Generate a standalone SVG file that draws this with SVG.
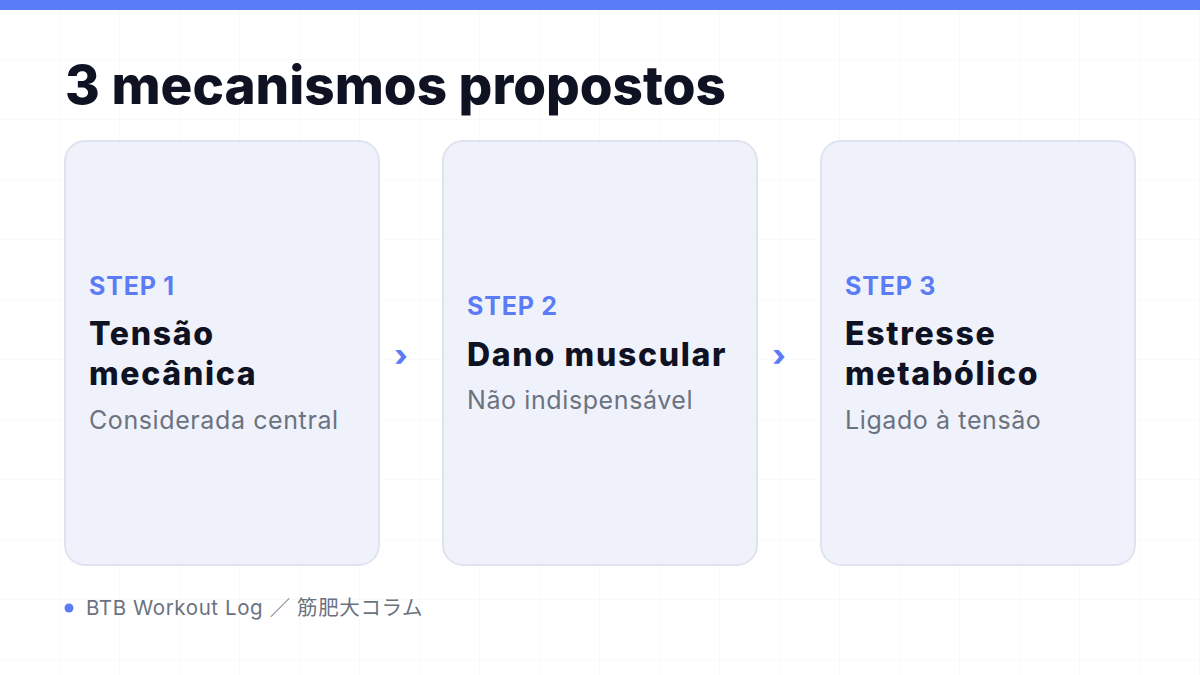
<svg xmlns="http://www.w3.org/2000/svg" width="1200" height="675" viewBox="0 0 1200 675">
  <defs>
    <pattern id="grid" width="60" height="60" patternUnits="userSpaceOnUse">
      <path d="M60 0V60M0 60H60" fill="none" stroke="#f2f3f6" stroke-width="1"/>
    </pattern>
    <style>
      .card { fill: #f0f2fb; stroke: #e0e3ef; stroke-width: 2; }
      .step { font-family: Inter, "Liberation Sans", sans-serif; font-weight: 700; font-size: 25px; letter-spacing: 0.8px; fill: #5b7cf5; }
      .title { font-family: Inter, "Liberation Sans", sans-serif; font-weight: 800; font-size: 32px; letter-spacing: 1.7px; fill: #0f1222; }
      .sub { font-family: Inter, "Liberation Sans", sans-serif; font-weight: 400; font-size: 25px; letter-spacing: 0.6px; fill: #6b7280; }
      .chev { font-family: Inter, "Liberation Sans", sans-serif; font-weight: 800; font-size: 30px; fill: #5b7cf5; }
    </style>
  </defs>
  <rect width="1200" height="675" fill="#ffffff"/>
  <rect width="1200" height="675" fill="url(#grid)"/>
  <rect x="0" y="0" width="1200" height="10" fill="#5b7cf7"/>

  <text x="65" y="104" font-family="Inter, 'Liberation Sans', sans-serif" font-weight="800" font-size="53" fill="#0f1222">3 mecanismos propostos</text>

  <g id="step1">
    <rect class="card" x="65" y="141" width="314" height="424" rx="20"/>
    <text class="step" x="89" y="295">STEP 1</text>
    <text class="title" x="89" y="345">Tensão</text>
    <text class="title" x="89" y="385">mecânica</text>
    <text class="sub" x="89" y="429">Considerada central</text>
  </g>

  <g id="step2">
    <rect class="card" x="443" y="141" width="314" height="424" rx="20"/>
    <text class="step" x="467" y="315">STEP 2</text>
    <text class="title" x="467" y="366">Dano muscular</text>
    <text class="sub" x="467" y="409">Não indispensável</text>
  </g>

  <g id="step3">
    <rect class="card" x="821" y="141" width="314" height="424" rx="20"/>
    <text class="step" x="845" y="295">STEP 3</text>
    <text class="title" x="845" y="345">Estresse</text>
    <text class="title" x="845" y="385">metabólico</text>
    <text class="sub" x="845" y="429">Ligado à tensão</text>
  </g>

  <g id="connectors">
    <text class="chev" x="401" y="366" text-anchor="middle">›</text>
    <text class="chev" x="779" y="366" text-anchor="middle">›</text>
  </g>

  <g id="footer">
    <circle cx="69" cy="608" r="4.5" fill="#5b7cf5"/>
    <text x="86" y="615" font-family="Inter, 'Noto Sans CJK JP', sans-serif" font-size="20.5" letter-spacing="0.6" fill="#6b7280">BTB Workout Log ／ 筋肥大コラム</text>
  </g>
</svg>
